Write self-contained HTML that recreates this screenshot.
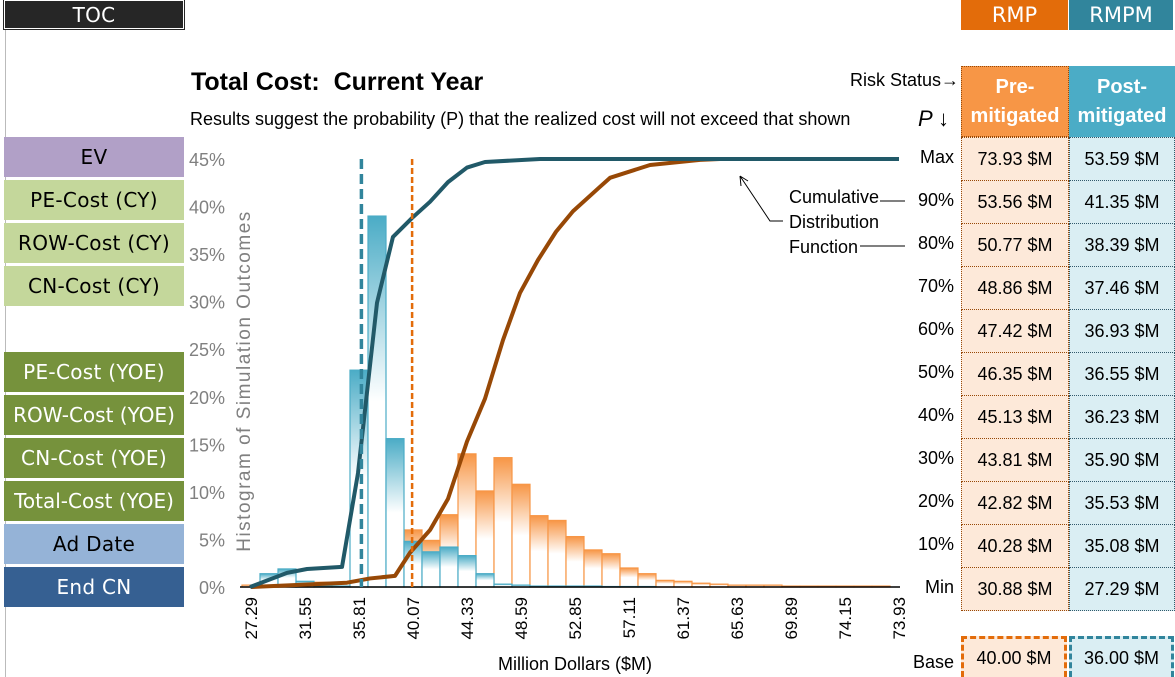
<!DOCTYPE html>
<html><head><meta charset="utf-8">
<style>
body{margin:0;width:1175px;height:677px;overflow:hidden;background:#fff;font-family:"Liberation Sans",sans-serif;position:relative}
.btn{position:absolute;left:4px;width:180px;height:40px;display:flex;align-items:center;justify-content:center;font-family:"DejaVu Sans","Liberation Sans",sans-serif;font-size:20px;box-sizing:border-box;white-space:nowrap;letter-spacing:0.3px}
.cell{position:absolute;display:flex;align-items:center;justify-content:center;font-size:18px;box-sizing:border-box}
.pre{left:961px;width:108px;background:#fde9d9;border:1px dotted #974806}
.post{left:1069px;width:106px;background:#daeef3;border:1px dotted #31596b}
.plab{position:absolute;left:900px;width:54px;text-align:right;font-size:18px}
</style></head><body>
<div style="position:absolute;left:0;top:0;width:5px;height:677px;border-right:1px solid #bbb"></div>
<div class="btn" style="top:0;height:29px;background:#262626;color:#fff;border:1px solid #fff;outline:1px solid #262626">TOC</div>
<div class="btn" style="top:137px;background:#b1a0c7">EV</div>
<div class="btn" style="top:180px;background:#c4d79b">PE-Cost (CY)</div>
<div class="btn" style="top:223px;background:#c4d79b">ROW-Cost (CY)</div>
<div class="btn" style="top:266px;background:#c4d79b">CN-Cost (CY)</div>
<div class="btn" style="top:352px;background:#76923c;color:#fff">PE-Cost (YOE)</div>
<div class="btn" style="top:395px;background:#76923c;color:#fff;letter-spacing:0">ROW-Cost (YOE)</div>
<div class="btn" style="top:438px;background:#76923c;color:#fff">CN-Cost (YOE)</div>
<div class="btn" style="top:481px;background:#76923c;color:#fff;letter-spacing:0">Total-Cost (YOE)</div>
<div class="btn" style="top:524px;background:#95b3d7">Ad Date</div>
<div class="btn" style="top:567px;background:#366092;color:#fff">End CN</div>

<div class="cell" style="left:961px;top:0;width:107px;height:30px;background:#e36c0a;color:#fff;font-size:21px;font-family:'DejaVu Sans',sans-serif">RMP</div>
<div class="cell" style="left:1069px;top:0;width:104px;height:30px;background:#31859c;color:#fff;font-size:21px;font-family:'DejaVu Sans',sans-serif">RMPM</div>

<div style="position:absolute;left:191px;top:68px;font-size:25px;font-weight:bold">Total Cost:&nbsp; Current Year</div>
<div style="position:absolute;left:190px;top:109px;font-size:18px">Results suggest the probability (P) that the realized cost will not exceed that shown</div>
<div style="position:absolute;left:850px;top:70px;font-size:18px">Risk Status→</div>
<div style="position:absolute;left:918px;top:106px;font-size:22px;font-style:italic">P <span style="font-style:normal">↓</span></div>

<div class="cell" style="left:961px;top:66px;width:108px;height:71px;background:#f79646;color:#fff;font-weight:bold;font-size:20px;flex-direction:column;line-height:29px;border:1px dotted #974806"><span>Pre-</span><span>mitigated</span></div>
<div class="cell" style="left:1069px;top:66px;width:106px;height:71px;background:#4bacc6;color:#fff;font-weight:bold;font-size:20px;flex-direction:column;line-height:29px"><span>Post-</span><span>mitigated</span></div>

<div id="table"></div>

<div class="plab" style="top:652px">Base</div>
<div class="cell" style="left:961px;top:636px;width:106px;height:41px;background:#fde9d9;border:3px dashed #e36c0a;border-bottom:none">40.00 $M</div>
<div class="cell" style="left:1069px;top:636px;width:105px;height:41px;background:#daeef3;border:3px dashed #31859c;border-bottom:none">36.00 $M</div>

<svg id="chart" width="1175" height="677" style="position:absolute;left:0;top:0">
<defs>
<linearGradient id="gb" x1="0" y1="0" x2="0" y2="1"><stop offset="0" stop-color="#4bacc6"/><stop offset="0.5" stop-color="#fff"/><stop offset="1" stop-color="#fff"/></linearGradient>
<linearGradient id="go" x1="0" y1="0" x2="0" y2="1"><stop offset="0" stop-color="#f79646"/><stop offset="0.5" stop-color="#fff"/><stop offset="1" stop-color="#fff"/></linearGradient>
<linearGradient id="gl" x1="0" y1="0" x2="1" y2="0"><stop offset="0" stop-color="#999"/><stop offset="1" stop-color="#fff"/></linearGradient>
<linearGradient id="gr" x1="0" y1="0" x2="1" y2="0"><stop offset="0" stop-color="#fff"/><stop offset="1" stop-color="#000"/></linearGradient>
</defs>
<g id="g"></g>
</svg>
<script>
const yTicks=[0,5,10,15,20,25,30,35,40,45];
const xLabels=["27.29","31.55","35.81","40.07","44.33","48.59","52.85","57.11","61.37","65.63","69.89","74.15","73.93"];
const pLabels=["Max","90%","80%","70%","60%","50%","40%","30%","20%","10%","Min"];
const pLevels=[100,90,80,70,60,50,40,30,20,10,0];
const preVals=["73.93 $M","53.56 $M","50.77 $M","48.86 $M","47.42 $M","46.35 $M","45.13 $M","43.81 $M","42.82 $M","40.28 $M","30.88 $M"];
const postVals=["53.59 $M","41.35 $M","38.39 $M","37.46 $M","36.93 $M","36.55 $M","36.23 $M","35.90 $M","35.53 $M","35.08 $M","27.29 $M"];
const binStart=26.58, binWidth=1.42;
const postHist=[0,1.4,1.9,0.6,0.1,0.1,22.8,39,15.6,4.8,3.7,4.2,3.3,1.4,0.3,0.2,0.1,0.1,0.1,0.1,0.05,0.05,0.05,0,0,0,0,0,0,0,0,0,0,0,0,0];
const preHist=[0.2,0.1,0.1,0.3,0.5,0.5,0.6,0.8,0.6,6.0,4.9,7.6,14.0,10.1,13.6,10.8,7.5,7.0,5.3,3.9,3.5,2.0,1.4,0.7,0.6,0.4,0.3,0.2,0.2,0.2,0.1,0.1,0.1,0.1,0.1,0.1];
const postCdfX=[27.21,30.13,31.71,34.47,35.73,37.23,38.49,39.99,41.41,42.83,44.33,45.75,50.09,78.41];
const postCdfP=[0,3.3,4.2,4.7,26.6,66.4,81.8,86.2,90,94.6,98,99.3,100,100];
const preCdfX=[27.29,34.86,36.68,38.65,39.83,41.41,42.83,44.33,45.75,47.17,48.51,49.93,51.35,52.69,54.82,55.61,58.77,62.71,64.29,78.41];
const preCdfP=[0,1,2,2.6,8,13.3,20.6,34,44,57.7,68.7,76.4,83,87.8,93.5,95.6,98.6,99.8,100,100];
const preBase=40.0, postBase=36.0;

const X0=251,X1=899,V0=27.29,V1=78.41,Y0=587,Y1=159;
const x=v=>X0+(v-V0)/(V1-V0)*(X1-X0);
const yh=p=>Y0-p/45*(Y0-Y1);
const yc=p=>Y0-p/100*(Y0-Y1);
const g=document.getElementById('g');
const NS='http://www.w3.org/2000/svg';
function mk(t,a){const e=document.createElementNS(NS,t);for(const k in a)e.setAttribute(k,a[k]);g.appendChild(e);return e;}

yTicks.forEach(t=>{
  const l=mk('line',{x1:240,x2:340,y1:yh(t),y2:yh(t),stroke:'url(#gl)','stroke-width':1});
  
  
  const tx=mk('text',{x:225,y:yh(t)+7,'text-anchor':'end','font-size':18,fill:'#808080','font-family':'Liberation Sans'});
  tx.textContent=t+'%';
  
  
});
pLevels.forEach((p,i)=>{
  if(i>0&&i<10){
    const l=mk('line',{x1:750,x2:905,y1:yc(p),y2:yc(p),stroke:'url(#gr)','stroke-width':1.2});
    
    
  }
});
function bars(arr,grad,col,name){
  arr.forEach((v,i)=>{
    if(v<=0)return;
    const lo=binStart+i*binWidth;
    const x0=x(lo),x1=x(lo+binWidth);
    const r=mk('rect',{x:x0,y:yh(v),width:x1-x0,height:Y0-yh(v),fill:grad,stroke:col,'stroke-width':1.2});
    
    
  });
}
bars(preHist,'url(#go)','#f79646','pre-mitigated');
bars(postHist,'url(#gb)','#4bacc6','post-mitigated');
const ax=mk('line',{x1:240,x2:900,y1:Y0,y2:Y0,stroke:'#000','stroke-width':1.5});


function cdf(xs,ps,col,name){
  const pts=xs.map((v,i)=>x(v)+','+yc(ps[i])).join(' ');
  const pl=mk('polyline',{points:pts,fill:'none',stroke:col,'stroke-width':4,'stroke-linejoin':'round'});
  
  
}
cdf(preCdfX,preCdfP,'#974806','pre-mitigated-cdf-line');
cdf(postCdfX,postCdfP,'#215968','post-mitigated-cdf-line');
const d1=mk('line',{x1:x(postBase),x2:x(postBase),y1:Y1,y2:Y0,stroke:'#31859c','stroke-width':3.5,'stroke-dasharray':'10,5'});


const d2=mk('line',{x1:x(preBase),x2:x(preBase),y1:Y1,y2:Y0,stroke:'#e36c0a','stroke-width':2.5,'stroke-dasharray':'6,3'});


xLabels.forEach((s,j)=>{
  const px=x(V0+j*(V1-V0)/12);
  const t=mk('text',{x:0,y:0,transform:`translate(${px+6},597) rotate(-90)`,'text-anchor':'end','font-size':17,fill:'#000','font-family':'Liberation Sans'});
  t.textContent=s;
  
  
});
const xt=mk('text',{x:575,y:670,'text-anchor':'middle','font-size':18,'font-family':'Liberation Sans'});
xt.textContent='Million Dollars ($M)';


const yt=mk('text',{x:0,y:0,transform:'translate(250,381) rotate(-90)','text-anchor':'middle','font-size':19,fill:'#808080','letter-spacing':'1.5','font-family':'Liberation Sans'});
yt.textContent='Histogram of Simulation Outcomes';


['Cumulative','Distribution','Function'].forEach((s,i)=>{
  const t=mk('text',{x:789,y:203+i*25,'font-size':18,'font-family':'Liberation Sans'});
  t.textContent=s;
  
  
});
const a1=mk('path',{d:'M783,221 L770,221 L740,176 M740,176 L741,186 M740,176 L748,181',fill:'none',stroke:'#000','stroke-width':1});


const a2=mk('path',{d:'M880,201 L905,201 M860,246 L905,246',stroke:'#000','stroke-width':1});



const tb=document.getElementById('table');
pLabels.forEach((s,i)=>{
  const top=137+i*43;
  const l=document.createElement('div');l.className='plab';l.style.top=(top+10)+'px';l.textContent=s;
  
  
  tb.appendChild(l);
  const a=document.createElement('div');a.className='cell pre';a.style.top=top+'px';a.style.height='44px';a.textContent=preVals[i];
  
  
  tb.appendChild(a);
  const b=document.createElement('div');b.className='cell post';b.style.top=top+'px';b.style.height='44px';b.textContent=postVals[i];
  
  
  tb.appendChild(b);
});
</script>
</body></html>
